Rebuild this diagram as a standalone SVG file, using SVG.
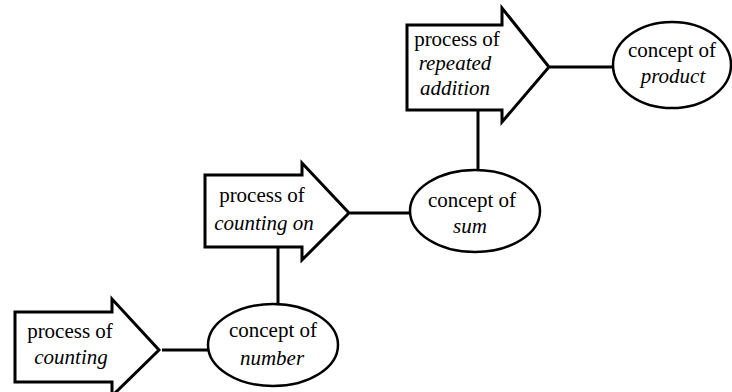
<svg xmlns="http://www.w3.org/2000/svg" width="732" height="392" viewBox="0 0 732 392">
<style>
.arrow{fill:#fff;stroke:#000;stroke-width:3;stroke-linejoin:miter}
.oval{fill:#fff;stroke:#000;stroke-width:2.5}
.conn line{stroke:#000;stroke-width:3}
.t{font-family:'Liberation Serif','DejaVu Serif',serif;font-size:21px;text-anchor:middle;fill:#000}
.i{font-style:italic}
</style>
<rect width="732" height="392" fill="#fff"/>
<g class="conn" id="connectors">
<line x1="162" y1="350" x2="208" y2="350"/>
<line x1="278" y1="247" x2="278" y2="304"/>
<line x1="350" y1="213" x2="410" y2="213"/>
<line x1="478" y1="110" x2="478" y2="170"/>
<line x1="550" y1="67" x2="612" y2="67"/>
</g>
<g id="process-counting" class="t" font-family="Liberation Serif, serif">
<polygon class="arrow" points="15,312 112,312 112,299 159,350 112,396 112,382 15,382"/>
<text x="70" y="338">process of</text>
<text x="71" y="364" class="i">counting</text>
</g>
<g id="concept-number" class="t" font-family="Liberation Serif, serif">
<ellipse class="oval" cx="273" cy="345" rx="65" ry="41"/>
<text x="273" y="337">concept of</text>
<text x="272" y="365" class="i">number</text>
</g>
<g id="process-counting-on" class="t" font-family="Liberation Serif, serif">
<polygon class="arrow" points="205,175 302,175 302,163 349,213 302,260 302,247 205,247"/>
<text x="262" y="202">process of</text>
<text x="264" y="230" class="i">counting on</text>
</g>
<g id="concept-sum" class="t" font-family="Liberation Serif, serif">
<ellipse class="oval" cx="475" cy="211" rx="65" ry="41"/>
<text x="472" y="207">concept of</text>
<text x="470" y="233" class="i">sum</text>
</g>
<g id="process-repeated-addition" class="t" font-family="Liberation Serif, serif">
<polygon class="arrow" points="407,25 502,25 502,8 549,67 502,122 502,110 407,110"/>
<text x="457" y="46">process of</text>
<text x="455" y="70" class="i">repeated</text>
<text x="455" y="95" class="i">addition</text>
</g>
<g id="concept-product" class="t" font-family="Liberation Serif, serif">
<ellipse class="oval" cx="672" cy="65" rx="59" ry="43"/>
<text x="672" y="57">concept of</text>
<text x="673" y="83" class="i">product</text>
</g>
</svg>
